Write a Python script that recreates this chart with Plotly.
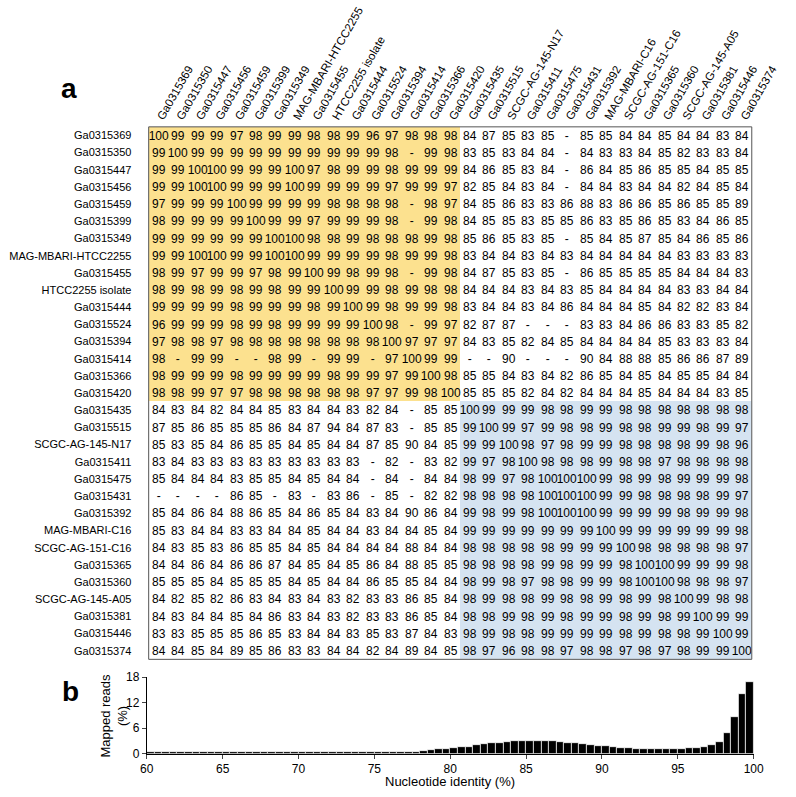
import plotly.graph_objects as go

FONT = "Liberation Sans, Arial, Helvetica, sans-serif"

genomes = [
    "Ga0315369", "Ga0315350", "Ga0315447", "Ga0315456", "Ga0315459", "Ga0315399",
    "Ga0315349", "MAG-MBARI-HTCC2255", "Ga0315455", "HTCC2255 isolate", "Ga0315444",
    "Ga0315524", "Ga0315394", "Ga0315414", "Ga0315366", "Ga0315420",
    "Ga0315435", "Ga0315515", "SCGC-AG-145-N17", "Ga0315411", "Ga0315475",
    "Ga0315431", "Ga0315392", "MAG-MBARI-C16", "SCGC-AG-151-C16", "Ga0315365",
    "Ga0315360", "SCGC-AG-145-A05", "Ga0315381", "Ga0315446", "Ga0315374",
]
clade_sizes = [16, 15]  # yellow clade, blue clade

N = None
identity = [
    [100, 99, 99, 99, 97, 98, 99, 99, 98, 98, 99, 96, 97, 98, 98, 98, 84, 87, 85, 83, 85, N, 85, 85, 84, 84, 85, 84, 84, 83, 84],
    [99, 100, 99, 99, 99, 99, 99, 99, 99, 99, 99, 99, 98, N, 99, 98, 83, 85, 83, 84, 84, N, 84, 83, 83, 84, 85, 82, 83, 83, 84],
    [99, 99, 100, 100, 99, 99, 99, 100, 97, 98, 99, 99, 98, 99, 99, 99, 84, 86, 85, 83, 84, N, 86, 84, 85, 86, 85, 85, 84, 85, 85],
    [99, 99, 100, 100, 99, 99, 99, 100, 99, 99, 99, 99, 97, 99, 99, 97, 82, 85, 84, 83, 84, N, 84, 84, 83, 84, 84, 82, 84, 85, 84],
    [97, 99, 99, 99, 100, 99, 99, 99, 99, 98, 98, 98, 98, N, 98, 97, 84, 85, 86, 83, 83, 86, 88, 83, 86, 86, 85, 86, 85, 85, 89],
    [98, 99, 99, 99, 99, 100, 99, 99, 97, 99, 99, 99, 98, N, 99, 98, 84, 85, 85, 83, 85, 85, 86, 83, 85, 86, 85, 83, 84, 86, 85],
    [99, 99, 99, 99, 99, 99, 100, 100, 98, 98, 99, 98, 98, 98, 99, 98, 85, 86, 85, 83, 85, N, 85, 84, 85, 87, 85, 84, 86, 85, 86],
    [99, 99, 100, 100, 99, 99, 100, 100, 99, 99, 99, 99, 98, 99, 99, 98, 83, 84, 84, 83, 84, 83, 84, 84, 84, 84, 84, 83, 83, 83, 83],
    [98, 99, 97, 99, 99, 97, 98, 99, 100, 99, 98, 99, 98, N, 99, 98, 84, 87, 85, 83, 85, N, 86, 85, 85, 85, 85, 84, 84, 84, 83],
    [98, 99, 98, 99, 98, 99, 98, 99, 99, 100, 99, 99, 98, 99, 98, 98, 84, 84, 84, 83, 84, 83, 85, 84, 84, 84, 84, 83, 83, 84, 84],
    [99, 99, 99, 99, 98, 99, 99, 99, 98, 99, 100, 99, 98, 99, 99, 98, 83, 84, 84, 83, 84, 86, 84, 84, 84, 85, 84, 82, 82, 83, 84],
    [96, 99, 99, 99, 98, 99, 98, 99, 99, 99, 99, 100, 98, N, 99, 97, 82, 87, 87, N, N, N, 83, 83, 84, 86, 86, 83, 83, 85, 82],
    [97, 98, 98, 97, 98, 98, 98, 98, 98, 98, 98, 98, 100, 97, 97, 97, 84, 83, 85, 82, 84, 85, 84, 84, 84, 84, 85, 83, 83, 83, 84],
    [98, N, 99, 99, N, N, 98, 99, N, 99, 99, N, 97, 100, 99, 99, N, N, 90, N, N, N, 90, 84, 88, 88, 85, 86, 86, 87, 89],
    [98, 99, 99, 99, 98, 99, 99, 99, 99, 98, 99, 99, 97, 99, 100, 98, 85, 85, 84, 83, 84, 82, 86, 85, 84, 85, 84, 85, 85, 84, 84],
    [98, 98, 99, 97, 97, 98, 98, 98, 98, 98, 98, 97, 97, 99, 98, 100, 85, 85, 85, 82, 84, 82, 84, 84, 84, 85, 84, 84, 84, 83, 85],
    [84, 83, 84, 82, 84, 84, 85, 83, 84, 84, 83, 82, 84, N, 85, 85, 100, 99, 99, 99, 98, 98, 99, 99, 98, 98, 98, 98, 98, 98, 98],
    [87, 85, 86, 85, 85, 85, 86, 84, 87, 94, 84, 87, 83, N, 85, 85, 99, 100, 99, 97, 99, 98, 98, 99, 98, 98, 99, 99, 98, 99, 97],
    [85, 83, 85, 84, 86, 85, 85, 84, 85, 84, 84, 87, 85, 90, 84, 85, 99, 99, 100, 98, 97, 98, 99, 99, 98, 98, 98, 98, 99, 98, 96],
    [83, 84, 83, 83, 83, 83, 83, 83, 83, 83, 83, N, 82, N, 83, 82, 99, 97, 98, 100, 98, 98, 98, 99, 98, 98, 97, 98, 98, 98, 98],
    [85, 84, 84, 84, 83, 85, 85, 84, 85, 84, 84, N, 84, N, 84, 84, 98, 99, 97, 98, 100, 100, 100, 99, 98, 99, 98, 99, 99, 99, 98],
    [N, N, N, N, 86, 85, N, 83, N, 83, 86, N, 85, N, 82, 82, 98, 98, 98, 98, 100, 100, 100, 99, 99, 98, 98, 98, 98, 99, 97],
    [85, 84, 86, 84, 88, 86, 85, 84, 86, 85, 84, 83, 84, 90, 86, 84, 99, 98, 99, 98, 100, 100, 100, 99, 99, 99, 99, 98, 99, 99, 98],
    [85, 83, 84, 84, 83, 83, 84, 84, 85, 84, 84, 83, 84, 84, 85, 84, 99, 99, 99, 99, 99, 99, 99, 100, 99, 99, 99, 99, 99, 99, 98],
    [84, 83, 85, 83, 86, 85, 85, 84, 85, 84, 84, 84, 84, 88, 84, 84, 98, 98, 98, 98, 98, 99, 99, 99, 100, 98, 98, 98, 98, 98, 97],
    [84, 84, 86, 84, 86, 86, 87, 84, 85, 84, 85, 86, 84, 88, 85, 85, 98, 98, 98, 98, 99, 98, 99, 99, 98, 100, 100, 99, 99, 99, 98],
    [85, 85, 85, 84, 85, 85, 85, 84, 85, 84, 84, 86, 85, 85, 84, 84, 98, 99, 98, 97, 98, 98, 99, 99, 98, 100, 100, 98, 98, 98, 97],
    [84, 82, 85, 82, 86, 83, 84, 83, 84, 83, 82, 83, 83, 86, 85, 84, 98, 99, 98, 98, 99, 98, 98, 99, 98, 99, 98, 100, 99, 98, 98],
    [84, 83, 84, 84, 85, 84, 86, 83, 84, 83, 82, 83, 83, 86, 85, 84, 98, 98, 99, 98, 99, 98, 99, 99, 98, 99, 98, 99, 100, 99, 99],
    [83, 83, 85, 85, 85, 86, 85, 83, 84, 84, 83, 85, 83, 87, 84, 83, 98, 99, 98, 98, 99, 99, 99, 99, 98, 99, 98, 98, 99, 100, 99],
    [84, 84, 85, 84, 89, 85, 86, 83, 83, 84, 84, 82, 84, 89, 84, 85, 98, 97, 96, 98, 98, 97, 98, 98, 97, 98, 97, 98, 99, 99, 100],
]

# Histogram of read identity (0.5 % bins, 60-100 %)
bin_left = [60 + 0.5 * i for i in range(80)]
mapped_reads = [
    0.3, 0.3, 0.3, 0.3, 0.3, 0.3, 0.3, 0.3, 0.3, 0.3,
    0.3, 0.3, 0.3, 0.3, 0.3, 0.3, 0.3, 0.3, 0.3, 0.3,
    0.3, 0.3, 0.3, 0.3, 0.3, 0.3, 0.3, 0.3, 0.3, 0.3,
    0.3, 0.3, 0.3, 0.3, 0.3,
    0.4, 0.6, 0.8, 1.0, 1.1, 1.3, 1.5, 1.6, 2.0, 2.2,
    2.4, 2.6, 2.8, 2.9, 3.0, 3.0, 3.0, 3.0, 3.0, 2.8,
    2.6, 2.5, 2.3, 2.1, 1.9,
    1.7, 1.5, 1.4, 1.3, 1.2, 1.2, 1.2, 1.2, 1.2, 1.2,
    1.2, 1.3, 1.4, 1.6, 2.0, 2.8, 4.8, 8.5, 14.0, 16.8,
]
hist_ticks = [60, 65, 70, 75, 80, 85, 90, 95, 100]
hist_yticks = [0, 6, 12, 18]

YELLOW = "#FCE18F"
BLUE = "#D5E3F1"

W, H = 796, 797


def px_x(v):
    return v / W


def px_y(v):
    return 1 - v / H


# clade membership -> cell colour class
clade_of = []
for ci, size in enumerate(clade_sizes):
    clade_of += [ci + 1] * size
zcls = [[(clade_of[i] if clade_of[i] == clade_of[j] else 0) for j in range(len(genomes))]
        for i in range(len(genomes))]
text = [["-" if v is None else str(v) for v in row] for row in identity]

fig = go.Figure()
fig.add_trace(go.Heatmap(
    z=zcls, x=genomes, y=genomes, text=text, texttemplate="%{text}",
    textfont=dict(family=FONT, size=12, color="black"),
    colorscale=[[0, "white"], [0.33, "white"], [0.34, YELLOW], [0.66, YELLOW],
                [0.67, BLUE], [1, BLUE]],
    zmin=0, zmax=2, showscale=False, hoverinfo="skip",
    xaxis="x", yaxis="y",
))

fig.add_trace(go.Bar(
    x=[b + 0.25 for b in bin_left], y=mapped_reads, width=0.5,
    marker=dict(color="black", line=dict(color="white", width=0.7)),
    xaxis="x2", yaxis="y2", hoverinfo="skip",
))

fig.update_layout(
    width=W, height=H, margin=dict(l=0, r=0, t=0, b=0),
    paper_bgcolor="white", plot_bgcolor="white", showlegend=False,
    font=dict(family=FONT, color="black"),
    xaxis=dict(domain=[px_x(148), px_x(778)], side="top", tickangle=-60,
               ticks="", showgrid=False, zeroline=False, showline=False,
               tickfont=dict(size=11.5), anchor="y", fixedrange=True),
    yaxis=dict(domain=[px_y(664), px_y(122)], autorange="reversed",
               ticks="outside", ticklen=14, tickcolor="rgba(0,0,0,0)",
               showgrid=False, zeroline=False, showline=False,
               tickfont=dict(size=11), anchor="x", fixedrange=True),
    xaxis2=dict(domain=[px_x(146), px_x(780)], range=[60, 100], tickvals=hist_ticks,
                ticks="outside", ticklen=4, showline=True, linecolor="black",
                linewidth=1, showgrid=False, zeroline=False,
                tickfont=dict(size=12), anchor="y2"),
    yaxis2=dict(domain=[px_y(760), px_y(682)], range=[0, 18], tickvals=hist_yticks,
                ticks="outside", ticklen=4, showline=True, linecolor="black",
                linewidth=1, showgrid=False, zeroline=False,
                tickfont=dict(size=12), anchor="x2"),
    bargap=0,
)

fig.add_shape(type="rect", xref="x domain", yref="y domain", x0=0, x1=1, y0=0, y1=1,
              line=dict(color="#555555", width=1), fillcolor="rgba(0,0,0,0)")

fig.add_annotation(text="<b>a</b>", x=px_x(65), y=px_y(83), xref="paper", yref="paper",
                   showarrow=False, font=dict(size=28), xanchor="center", yanchor="middle")
fig.add_annotation(text="<b>b</b>", x=px_x(66), y=px_y(697), xref="paper", yref="paper",
                   showarrow=False, font=dict(size=28), xanchor="center", yanchor="middle")
fig.add_annotation(text="Mapped reads<br>(%)", textangle=-90, x=px_x(112), y=px_y(721),
                   xref="paper", yref="paper", showarrow=False, font=dict(size=13),
                   xanchor="center", yanchor="middle")
fig.add_annotation(text="Nucleotide identity (%)", x=px_x(463), y=px_y(788),
                   xref="paper", yref="paper", showarrow=False, font=dict(size=13),
                   xanchor="center", yanchor="middle")

fig.write_html("out.html", config={"displayModeBar": False},
               post_script="document.body.style.margin='0';document.body.style.overflow='hidden';")
